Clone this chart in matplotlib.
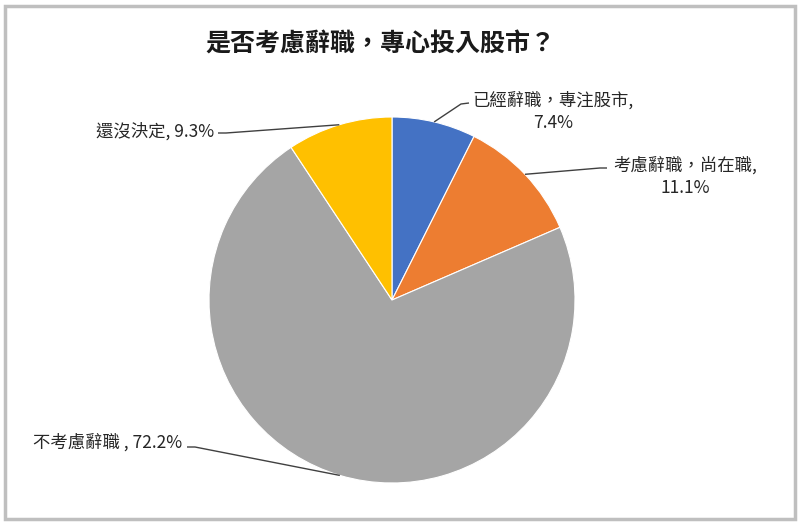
import numpy as np
import matplotlib.pyplot as plt
from matplotlib.patches import Rectangle

plt.rcParams['font.family'] = ['Noto Sans CJK TC', 'DejaVu Sans']

# 資料
titulo = '是否考慮辭職，專心投入股市？'
categorias = ['已經辭職，專注股市', '考慮辭職，尚在職', '不考慮辭職', '還沒決定']
porcentajes = [7.4, 11.1, 72.2, 9.3]
cores = ['#4472C4', '#ED7D31', '#A5A5A5', '#FFC000']

W, H = 800, 524
fig = plt.figure(figsize=(W / 100, H / 100), dpi=100)
ax = fig.add_axes([0, 0, 1, 1])

cx, cy, r = 392, H - 300, 183
wedges, _ = ax.pie(porcentajes, colors=cores, startangle=90, counterclock=False,
                   center=(cx, cy), radius=r, frame=True,
                   wedgeprops=dict(edgecolor='white', linewidth=0.8))
ax.set_xlim(0, W)
ax.set_ylim(0, H)
ax.set_aspect('equal')
ax.axis('off')

# posição dos rótulos (pixels da imagem): texto x, y, alinhamento, fim da linha
rotulos = [
    (f'{categorias[0]},\n{porcentajes[0]}%', 553, 112, 'center', (469, 103), (461, 104)),
    (f'{categorias[1]},\n{porcentajes[1]}%', 685, 177, 'center', (607, 168), (600, 168)),
    (f'{categorias[2]} , {porcentajes[2]}%', 182, 442, 'right', (187, 447), (195, 447)),
    (f'{categorias[3]}, {porcentajes[3]}%', 214, 131, 'right', (218, 133), (226, 133)),
]

for w, (txt, tx, ty, ha, fim, canto) in zip(wedges, rotulos):
    ang = np.deg2rad((w.theta1 + w.theta2) / 2)
    ax_ = cx + r * np.cos(ang)
    ay_ = cy + r * np.sin(ang)
    ax.plot([ax_, canto[0], fim[0]], [ay_, H - canto[1], H - fim[1]],
            color='#404040', lw=1.0, solid_capstyle='butt')
    ax.text(tx, H - ty, txt, ha=ha, va='center', fontsize=12.5,
            color='#262626', linespacing=1.3)

ax.text(380, H - 45, titulo, ha='center', va='center', fontsize=18,
        fontweight='bold', color='#1a1a1a')

# moldura
fig.patches.append(Rectangle((5 / W, 5 / H), 790 / W, 513 / H,
                             transform=fig.transFigure, fill=False,
                             edgecolor='#BFBFBF', linewidth=2.5))

fig.savefig('out.png', dpi=100)
